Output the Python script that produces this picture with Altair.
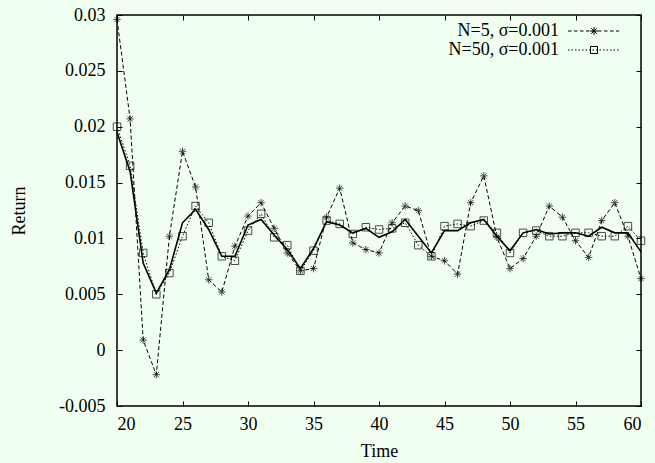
import altair as alt
import pandas as pd

# ---- data ----
time = list(range(20, 61))
n5 = [0.0296, 0.0207, 0.0009, -0.0022, 0.0102, 0.0178, 0.0146, 0.0063, 0.0052, 0.0093,
      0.0120, 0.0132, 0.0109, 0.0087, 0.0071, 0.0073, 0.0119, 0.0145, 0.0096, 0.0090,
      0.0087, 0.0114, 0.0129, 0.0125, 0.0084, 0.0080, 0.0068, 0.0132, 0.0156, 0.0101,
      0.0073, 0.0082, 0.0102, 0.0129, 0.0119, 0.0098, 0.0083, 0.0116, 0.0132, 0.0102, 0.0064]
n50 = [0.0200, 0.0165, 0.0087, 0.0050, 0.0069, 0.0102, 0.0129, 0.0114, 0.0084, 0.0080,
       0.0107, 0.0122, 0.0101, 0.0094, 0.0071, 0.0089, 0.0116, 0.0113, 0.0104, 0.0110,
       0.0108, 0.0109, 0.0114, 0.0094, 0.0084, 0.0111, 0.0113, 0.0111, 0.0116, 0.0105,
       0.0087, 0.0105, 0.0107, 0.0102, 0.0102, 0.0105, 0.0105, 0.0102, 0.0102, 0.0111, 0.0098]
mean = [0.0195, 0.0160, 0.0078, 0.0051, 0.0072, 0.0114, 0.0126, 0.0108, 0.0084, 0.0084,
        0.0112, 0.0117, 0.0103, 0.0090, 0.0073, 0.0091, 0.0115, 0.0112, 0.0105, 0.0109,
        0.0101, 0.0106, 0.0117, 0.0102, 0.0087, 0.0107, 0.0107, 0.0114, 0.0117, 0.0102,
        0.0089, 0.0105, 0.0108, 0.0104, 0.0105, 0.0105, 0.0102, 0.0110, 0.0105, 0.0105, 0.0088]

S5 = "N=5, σ=0.001"
S50 = "N=50, σ=0.001"
SM = "mean"
series_names = [S5, S50]
x_ticks = [20, 25, 30, 35, 40, 45, 50, 55, 60]
y_ticks = [-0.005, 0.0, 0.005, 0.01, 0.015, 0.02, 0.025, 0.03]

rows = []
for name, vals in [(S5, n5), (S50, n50), (SM, mean)]:
    for t, v in zip(time, vals):
        rows.append({"t": t, "value": v, "series": name})
df = pd.DataFrame(rows)

FONT = "Liberation Serif"
FS = 18

# ---- legend symbol paths (line sample + marker), drawn to the right of the label ----
SU = 8.0          # px per path unit at symbolSize 256
X0, X1 = 18.0, 69.0   # px from the nominal symbol centre
XM = 44.0             # marker centre


def seg_path(on_px, off_px):
    parts = []
    x = X0
    while x < X1:
        x2 = min(x + on_px, X1)
        parts.append(f"M{x / SU:.3f},0H{x2 / SU:.3f}")
        x = x2 + off_px
    return "".join(parts)


def star_path(cx, r):
    d = r * 0.7
    c = cx / SU
    r /= SU
    d /= SU
    return (f"M{c - r:.3f},0H{c + r:.3f}M{c:.3f},{-r:.3f}V{r:.3f}"
            f"M{c - d:.3f},{-d:.3f}L{c + d:.3f},{d:.3f}M{c - d:.3f},{d:.3f}L{c + d:.3f},{-d:.3f}")


def square_path(cx, h):
    c = cx / SU
    h /= SU
    return f"M{c - h:.3f},{-h:.3f}H{c + h:.3f}V{h:.3f}H{c - h:.3f}Z"


leg_paths = [seg_path(3.5, 2.5) + star_path(XM, 4.0), seg_path(1.5, 2.0) + square_path(XM, 3.5)]

star = "M-1,0H1M0,-1V1M-0.7,-0.7L0.7,0.7M-0.7,0.7L0.7,-0.7"

ylabel = "replace(format(datum.value, '~g'), '\u2212', '-')"

xs = alt.Scale(domain=[20, 60], nice=False, zero=False)
ys = alt.Scale(domain=[-0.005, 0.03], nice=False, zero=False)

base = alt.Chart(df)

# axes bottom / left (ticks pointing inward via negative offset)
axes_main = base.mark_point(opacity=0).encode(
    x=alt.X("t:Q", scale=xs, title="Time",
            axis=alt.Axis(orient="bottom", values=x_ticks, format="d", offset=-5, tickSize=5,
                          labelPadding=9, titlePadding=9, domain=False, grid=False)),
    y=alt.Y("value:Q", scale=ys, title="Return",
            axis=alt.Axis(orient="left", values=y_ticks, labelExpr=ylabel, offset=-5, tickSize=5,
                          labelPadding=12, titlePadding=30, domain=False, grid=False)),
)
# mirrored ticks top / right
axes_mirror = base.mark_point(opacity=0).encode(
    x=alt.X("t:Q", scale=xs, title=None,
            axis=alt.Axis(orient="top", values=x_ticks, labels=False, offset=-5, tickSize=5,
                          domain=False, grid=False)),
    y=alt.Y("value:Q", scale=ys, title=None,
            axis=alt.Axis(orient="right", values=y_ticks, labels=False, offset=-5, tickSize=5,
                          domain=False, grid=False)),
)

solid = base.transform_filter(alt.datum.series == SM).mark_line(
    color="black", strokeWidth=1.6).encode(
    x=alt.X("t:Q", scale=xs, axis=None),
    y=alt.Y("value:Q", scale=ys, axis=None),
)

dashed = base.transform_filter(alt.datum.series != SM).mark_line(
    color="black", strokeWidth=1).encode(
    x=alt.X("t:Q", scale=xs, axis=None),
    y=alt.Y("value:Q", scale=ys, axis=None),
    detail="series:N",
    strokeDash=alt.StrokeDash("series:N", scale=alt.Scale(domain=series_names, range=[[4, 2.5], [1.5, 2]]),
                              legend=None),
)

points = base.transform_filter(alt.datum.series != SM).mark_point(
    color="black", filled=False, strokeWidth=1, size=56).encode(
    x=alt.X("t:Q", scale=xs, axis=None),
    y=alt.Y("value:Q", scale=ys, axis=None),
    shape=alt.Shape("series:N", scale=alt.Scale(domain=series_names, range=[star, "square"]), legend=None),
)

legend_layer = base.transform_filter(alt.datum.series != SM).mark_point(
    color="black", filled=False, opacity=0).encode(
    x=alt.X("t:Q", scale=xs, axis=None),
    y=alt.Y("value:Q", scale=ys, axis=None),
    shape=alt.Shape("series:N", scale=alt.Scale(domain=series_names, range=leg_paths),
                    legend=alt.Legend(orient="none", legendX=424, legendY=7, title=None,
                                      symbolSize=256, symbolStrokeWidth=1, symbolStrokeColor="black",
                                      symbolOpacity=1, symbolOffset=0, labelAlign="right",
                                      labelOffset=0, padding=0, rowPadding=1,
                                      labelFont=FONT, labelFontSize=FS, labelColor="black",
                                      labelLimit=400)),
)

chart = alt.layer(axes_main, axes_mirror, solid, dashed, points, legend_layer).resolve_axis(
    x="independent", y="independent"
).resolve_scale(shape="independent").properties(
    width=524, height=391,
    autosize=alt.AutoSizeParams(type="none"),
    padding={"left": 117, "top": 15, "right": 14, "bottom": 57},
    background="#f0fff0",
).configure_view(
    stroke="black", strokeWidth=1.5
).configure_axis(
    labelFont=FONT, labelFontSize=FS, labelColor="black",
    titleFont=FONT, titleFontSize=FS, titleFontWeight="normal", titleColor="black",
    tickColor="black", tickWidth=1,
)

chart.save("out.html", embed_options={"renderer": "svg", "actions": False})
